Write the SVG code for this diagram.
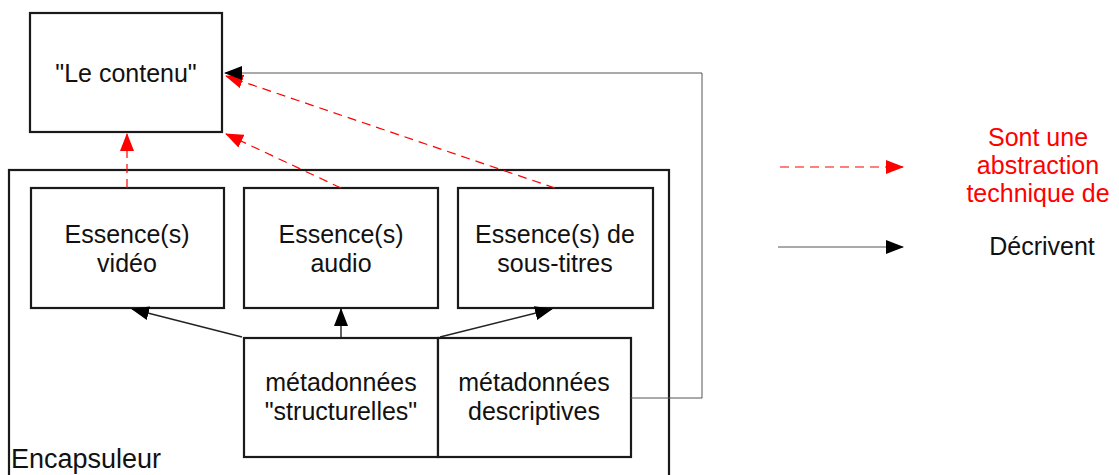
<svg xmlns="http://www.w3.org/2000/svg" width="1119" height="475" viewBox="0 0 1119 475">
<style>
.box{fill:#fff;stroke:#1a1a1a;stroke-width:2.2}
.t{font-family:"Liberation Sans",Arial,sans-serif;font-size:25px;fill:#111;text-anchor:middle}
.red{stroke:#ff0000;stroke-width:1.2;stroke-dasharray:9,6;fill:none}
.blk{stroke:#222;stroke-width:1.4;fill:none}
.thin{stroke:#555;stroke-width:1;fill:none}
</style>
<defs>
<marker id="ar" markerWidth="18" markerHeight="14" refX="17" refY="7" orient="auto" markerUnits="userSpaceOnUse"><path d="M0,0 L18,7 L0,14 Z" fill="#ff0000"/></marker>
<marker id="ab" markerWidth="18" markerHeight="14" refX="17" refY="7" orient="auto" markerUnits="userSpaceOnUse"><path d="M0,0 L18,7 L0,14 Z" fill="#000"/></marker>
</defs>
<g id="encapsuleur">
<rect class="box" x="9" y="170" width="660" height="320"/>
<text class="t" x="11" y="468" style="text-anchor:start;font-size:27px">Encapsuleur</text>
</g>
<g id="contenu">
<rect class="box" x="30" y="13" width="192" height="119"/>
<text class="t" x="126" y="82">"Le contenu"</text>
</g>
<g id="video">
<rect class="box" x="31" y="188" width="193" height="120"/>
<text class="t" x="127" y="243">Essence(s)</text>
<text class="t" x="127" y="272">vidéo</text>
</g>
<g id="audio">
<rect class="box" x="244" y="188" width="194" height="120"/>
<text class="t" x="341" y="243">Essence(s)</text>
<text class="t" x="341" y="272">audio</text>
</g>
<g id="soustitres">
<rect class="box" x="458" y="188" width="195" height="120"/>
<text class="t" x="555" y="243">Essence(s) de</text>
<text class="t" x="555" y="272">sous-titres</text>
</g>
<g id="structurelles">
<rect class="box" x="244" y="338" width="194" height="119"/>
<text class="t" x="341" y="391">métadonnées</text>
<text class="t" x="341" y="420">"structurelles"</text>
</g>
<g id="descriptives">
<rect class="box" x="438" y="338" width="193" height="119"/>
<text class="t" x="534" y="391">métadonnées</text>
<text class="t" x="534" y="420">descriptives</text>
</g>
<g id="connectors">
<line class="red" x1="127" y1="188" x2="127" y2="134" marker-end="url(#ar)"/>
<line class="red" x1="341" y1="188" x2="226" y2="134" marker-end="url(#ar)"/>
<line class="red" x1="555" y1="188" x2="226" y2="76" marker-end="url(#ar)"/>
<polyline class="thin" points="631,398 702,398 702,73 225,73" marker-end="url(#ab)"/>
<line class="blk" x1="242" y1="337" x2="132" y2="309" marker-end="url(#ab)"/>
<line class="blk" x1="341" y1="337" x2="341" y2="309" marker-end="url(#ab)"/>
<line class="blk" x1="440" y1="337" x2="552" y2="309" marker-end="url(#ab)"/>
</g>
<g id="legend">
<line class="red" x1="780" y1="167" x2="903" y2="167" marker-end="url(#ar)"/>
<line class="thin" x1="778" y1="247" x2="903" y2="247" marker-end="url(#ab)"/>
<text class="t" x="1038" y="146" style="fill:#ff0000">Sont une</text>
<text class="t" x="1038" y="174" style="fill:#ff0000">abstraction</text>
<text class="t" x="1038" y="202" style="fill:#ff0000">technique de</text>
<text class="t" x="1042" y="255">Décrivent</text>
</g>
</svg>
